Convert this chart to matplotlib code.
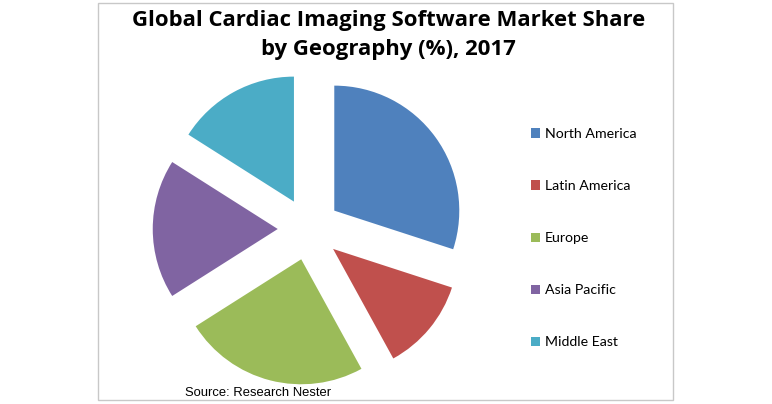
import matplotlib
matplotlib.use("Agg")
import matplotlib.pyplot as plt
from matplotlib.patches import Rectangle

# === DATA ===
regions = ["North America", "Latin America", "Europe", "Asia Pacific", "Middle East"]
shares = [30, 12, 24, 18, 16]
colors = ["#4F81BD", "#C0504D", "#9BBB59", "#8064A2", "#4BACC6"]

W, H = 772, 404
fig = plt.figure(figsize=(W / 100, H / 100), dpi=100)
fig.patch.set_facecolor("white")

# chart frame
fig.patches.append(Rectangle((98 / W, (H - 400) / H), 575 / W, 397 / H,
                             transform=fig.transFigure, fill=False,
                             edgecolor="#C8C8C8", lw=1.0))

# pie axes: centre at (309, 229) px, radius 125 px, limits +-1.3
ax = fig.add_axes([(309 - 162.5) / W, (H - 229 - 162.5) / H, 325 / W, 325 / H])
wedges, _ = ax.pie(shares, colors=colors, startangle=90, counterclock=False,
                   explode=[0.25] * len(shares), radius=1.0,
                   wedgeprops=dict(linewidth=0))
ax.set_xlim(-1.3, 1.3)
ax.set_ylim(-1.3, 1.3)
ax.set_aspect("equal")
ax.axis("off")

fig.text(389 / W, 1 - 26 / H, "Global Cardiac Imaging Software Market Share",
         ha="center", va="baseline", fontsize=15.9, fontweight="bold",
         family="Open Sans")
fig.text(388 / W, 1 - 55 / H, "by Geography (%), 2017",
         ha="center", va="baseline", fontsize=15.9, fontweight="bold",
         family="Open Sans")

leg = fig.legend(wedges, regions, loc="upper left",
                 bbox_to_anchor=(524 / W, 1 - 121 / H),
                 frameon=False, prop=dict(family="Lato", size=10.2),
                 handlelength=0.65, handleheight=0.65, handletextpad=0.35,
                 labelspacing=2.83, borderpad=0)

fig.text(185 / W, 1 - 396 / H, "Source: Research Nester", ha="left",
         va="baseline", fontsize=9.4, family="Liberation Sans")

fig.savefig("out.png", dpi=100, facecolor="white")
